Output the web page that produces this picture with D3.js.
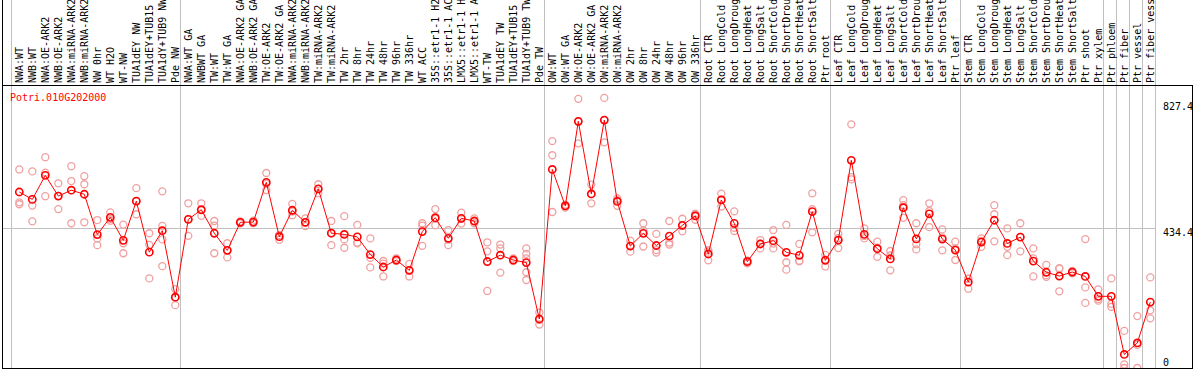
<!DOCTYPE html>
<html lang="en">
  <head>
    <meta charset="UTF-8" />
    <title>Potri.010G202000</title>
    <script src="https://cdnjs.cloudflare.com/ajax/libs/d3/7.8.5/d3.min.js"></script>
    <style>
      body {
        margin: 0;
        background: #fff;
      }
      svg text {
        font-family: "DejaVu Sans Mono", monospace;
        font-size: 10px;
      }
    </style>
  </head>
  <body>
    <div id="chart"></div>

    <script>
      // gene shown
      const geneId = "Potri.010G202000";

      // sample names (one column each)
      const samples = [
        "NWA:WT", "NWB:WT", "NWA:OE-ARK2", "NWB:OE-ARK2", "NWA:miRNA-ARK2",
        "NWB:miRNA-ARK2", "NW 0hr", "WT H2O", "WT-NW", "TUA1dEY NW",
        "TUA1dEY+TUB15 NW", "TUA1dY+TUB9 NW", "Pde NW",
        "NWA:WT GA", "NWBWT GA", "TW:WT", "TW:WT GA", "NWA:OE-ARK2 GA",
        "NWB:OE-ARK2 GA", "TW:OE-ARK2", "TW:OE-ARK2 GA", "NWA:miRNA-ARK2 GA",
        "NWB:miRNA-ARK2 GA", "TW:miRNA-ARK2", "TW:miRNA-ARK2 GA", "TW 2hr",
        "TW 8hr", "TW 24hr", "TW 48hr", "TW 96hr", "TW 336hr", "WT ACC",
        "35S::etr1-1 H2O", "35S::etr1-1 ACC", "LMX5::etr1-1 H2O",
        "LMX5::etr1-1 ACC", "WT-TW", "TUA1dEY TW", "TUA1dEY+TUB15 TW",
        "TUA1dY+TUB9 TW", "Pde TW",
        "OW:WT", "OW:WT GA", "OW:OE-ARK2", "OW:OE-ARK2 GA", "OW:miRNA-ARK2",
        "OW:miRNA-ARK2 GA", "OW 2hr", "OW 8hr", "OW 24hr", "OW 48hr",
        "OW 96hr", "OW 336hr",
        "Root CTR", "Root LongCold", "Root LongDrought", "Root LongHeat",
        "Root LongSalt", "Root ShortCold", "Root ShortDrought",
        "Root ShortHeat", "Root ShortSalt", "Ptr root",
        "Leaf CTR", "Leaf LongCold", "Leaf LongDrought", "Leaf LongHeat",
        "Leaf LongSalt", "Leaf ShortCold", "Leaf ShortDrought",
        "Leaf ShortHeat", "Leaf ShortSalt", "Ptr leaf",
        "Stem CTR", "Stem LongCold", "Stem LongDrought", "Stem LongHeat",
        "Stem LongSalt", "Stem ShortCold", "Stem ShortDrought",
        "Stem ShortHeat", "Stem ShortSalt", "Ptr shoot", "Ptr xylem",
        "Ptr phloem", "Ptr fiber", "Ptr vessel", "Ptr fiber vessel"
      ];

      // first sample of each group (a grey separator is drawn before it)
      const groupStarts = [
        "NWA:WT", "NWA:WT GA", "OW:WT", "Root CTR", "Leaf CTR", "Stem CTR",
        "Ptr phloem", "Ptr fiber", "Ptr vessel", "Ptr fiber vessel"
      ];

      // replicate values per sample
      const replicates = [
        [616, 514, 508], [610, 504, 455], [654, 606, 533], [573, 493, 534],
        [626, 580, 449], [595, 570, 452], [459, 402, 381], [483, 462, 457],
        [445, 387, 356], [558, 477, 518], [418, 382, 278],
        [548, 441, 399, 316], [245, 195, 219],
        [511, 410, 462], [511, 472, 490], [456, 442, 356], [387, 343, 365],
        [455, 452, 449], [457, 449, 452], [605, 552, 571], [412, 398, 412],
        [509, 474, 485], [464, 440, 452], [570, 542, 555], [456, 381, 418],
        [471, 399, 373], [444, 387, 389], [402, 342, 312], [332, 284, 324],
        [340, 333, 332], [323, 284, 302], [449, 442, 379], [493, 443, 463],
        [428, 381, 398], [482, 448, 463], [464, 449, 455], [390, 362, 239],
        [383, 371, 296], [340, 333, 332], [371, 354, 340, 297, 273],
        [172, 135, 149],
        [704, 660, 484], [507, 498, 503], [835, 697, 764], [569, 511, 540],
        [838, 700, 769], [526, 503, 521], [395, 361, 379], [449, 377, 427],
        [416, 366, 358], [456, 389, 383], [463, 424, 441], [479, 460, 476],
        [361, 334, 366], [541, 501, 522], [486, 425, 435], [333, 325, 332],
        [397, 371, 386], [428, 371, 386], [444, 328, 305], [385, 333, 331],
        [542, 493, 421], [351, 315, 336],
        [416, 372, 403], [756, 592, 585], [433, 402, 409], [392, 345, 373],
        [363, 303, 349], [521, 466, 505], [449, 384, 368], [511, 487, 437],
        [430, 365, 405], [392, 335, 371],
        [277, 246, 277], [402, 376, 394], [505, 477, 393], [433, 350, 376],
        [449, 362, 407], [371, 284, 340], [320, 283, 288], [310, 238, 308],
        [301, 294, 298], [400, 250, 202], [244, 209, 214],
        [278, 199, 190], [115, 11, 0], [161, 0, 72], [281, 179, 154]
      ];

      // right axis ticks
      const yTicks = [0, 434.4, 827.4];

      const width = 1194;
      const height = 370;
      const headerBottom = 85;
      const plotBottom = 368;

      const svg = d3
        .select("#chart")
        .append("svg")
        .attr("width", width)
        .attr("height", height);

      const x = d3
        .scaleBand()
        .domain(samples)
        .range([11, 11 + samples.length * 13]);
      const plotRight = x.range()[1];

      const y = d3
        .scaleLinear()
        .domain([0, d3.max(yTicks)])
        .range([plotBottom, 101.3]);

      const px = (name) => x(name) + 8.3;

      // clip for plot area
      svg
        .append("clipPath")
        .attr("id", "plot-clip")
        .append("rect")
        .attr("x", 2)
        .attr("y", headerBottom)
        .attr("width", width - 3)
        .attr("height", plotBottom - headerBottom);

      // group separators (through header and plot)
      svg
        .selectAll("line.sep")
        .data(groupStarts)
        .enter()
        .append("line")
        .attr("class", "sep")
        .attr("x1", (d) => x(d) + 0.5)
        .attr("x2", (d) => x(d) + 0.5)
        .attr("y1", 0)
        .attr("y2", plotBottom)
        .attr("stroke", "#c0c0c0");
      svg
        .append("line")
        .attr("x1", plotRight + 0.5)
        .attr("x2", plotRight + 0.5)
        .attr("y1", 0)
        .attr("y2", plotBottom)
        .attr("stroke", "#c0c0c0");

      // middle grid line
      svg
        .append("line")
        .attr("x1", 2)
        .attr("x2", plotRight + 0.5)
        .attr("y1", Math.round(y(yTicks[1])) + 0.5)
        .attr("y2", Math.round(y(yTicks[1])) + 0.5)
        .attr("stroke", "#c0c0c0");

      // sample labels, rotated
      svg
        .append("g")
        .selectAll("text")
        .data(samples)
        .enter()
        .append("text")
        .attr("transform", (d) => `translate(${px(d) + 4},83) rotate(-90)`)
        .attr("fill", "#000")
        .text((d) => d);

      // frame
      svg
        .append("line")
        .attr("x1", 2)
        .attr("x2", width - 1)
        .attr("y1", headerBottom + 0.5)
        .attr("y2", headerBottom + 0.5)
        .attr("stroke", "#000");
      svg
        .append("line")
        .attr("x1", 2)
        .attr("x2", width - 1)
        .attr("y1", plotBottom + 0.5)
        .attr("y2", plotBottom + 0.5)
        .attr("stroke", "#000");
      svg
        .append("line")
        .attr("x1", 2.5)
        .attr("x2", 2.5)
        .attr("y1", 0)
        .attr("y2", plotBottom + 1)
        .attr("stroke", "#000");

      const plot = svg.append("g").attr("clip-path", "url(#plot-clip)");

      // replicate points
      const repPoints = [];
      samples.forEach((s, i) => {
        replicates[i].forEach((v) => repPoints.push({ s, v }));
      });
      plot
        .selectAll("circle.rep")
        .data(repPoints)
        .enter()
        .append("circle")
        .attr("class", "rep")
        .attr("cx", (d) => px(d.s))
        .attr("cy", (d) => y(d.v))
        .attr("r", 3.5)
        .attr("fill", "none")
        .attr("stroke", "#f0a0a0")
        .attr("stroke-width", 1.3);

      // means
      const means = samples.map((s, i) => ({ s, v: d3.mean(replicates[i]) }));

      plot
        .append("path")
        .datum(means)
        .attr("fill", "none")
        .attr("stroke", "#ff0000")
        .attr("stroke-width", 1)
        .attr(
          "d",
          d3
            .line()
            .x((d) => px(d.s))
            .y((d) => y(d.v))
        );

      plot
        .selectAll("circle.mean")
        .data(means)
        .enter()
        .append("circle")
        .attr("class", "mean")
        .attr("cx", (d) => px(d.s))
        .attr("cy", (d) => y(d.v))
        .attr("r", 3.6)
        .attr("fill", "none")
        .attr("stroke", "#ff0000")
        .attr("stroke-width", 1.6);

      // gene title
      svg
        .append("text")
        .attr("x", 10)
        .attr("y", 101)
        .attr("fill", "#ff0000")
        .text(geneId);

      // right axis labels
      svg
        .selectAll("text.tick")
        .data(yTicks)
        .enter()
        .append("text")
        .attr("class", "tick")
        .attr("x", plotRight + 8)
        .attr("y", (d) => Math.min(y(d) + 8.5, 365.5))
        .attr("fill", "#000")
        .text((d) => d);

      // right border drawn last so it cuts the labels
      svg
        .append("rect")
        .attr("x", width - 1)
        .attr("y", 0)
        .attr("width", 1)
        .attr("height", height)
        .attr("fill", "#fff");
      svg
        .append("line")
        .attr("x1", width - 1.5)
        .attr("x2", width - 1.5)
        .attr("y1", headerBottom)
        .attr("y2", plotBottom + 1)
        .attr("stroke", "#000");
    </script>
  </body>
</html>
